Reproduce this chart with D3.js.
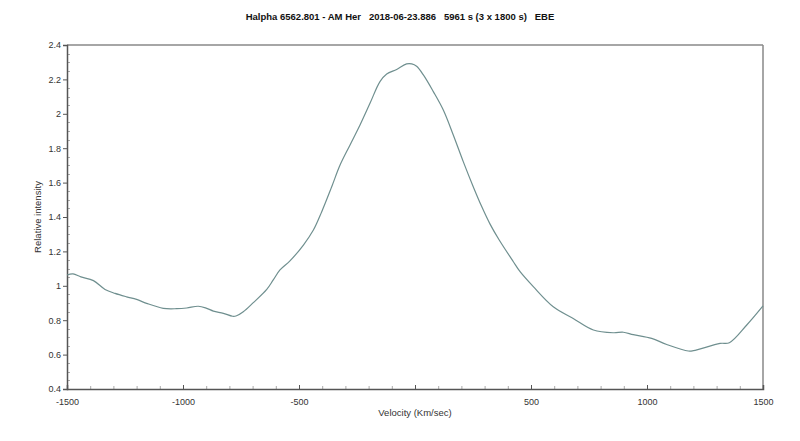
<!DOCTYPE html>
<html><head><meta charset="utf-8">
<script src="https://cdn.jsdelivr.net/npm/d3@7"></script>
<style>body{margin:0;background:#fff;}svg{display:block;font-family:"Liberation Sans",Arial,sans-serif;}</style>
</head><body>
<svg id="c" width="800" height="441"></svg>
<script>
const titleText = "Halpha 6562.801 - AM Her   2018-06-23.886   5961 s (3 x 1800 s)   EBE";
const xLabel = "Velocity (Km/sec)";
const yLabel = "Relative intensity";
const xTicks = [-1500, -1000, -500, 0, 500, 1000, 1500];
const xTickLabels = ["-1500", "-1000", "-500", "", "500", "1000", "1500"];
const yTicks = [0.4, 0.6, 0.8, 1, 1.2, 1.4, 1.6, 1.8, 2, 2.2, 2.4];
const velocity = [-1500,-1474,-1440,-1386,-1336,-1293,-1243,-1200,-1157,-1085,-1027,-984,-934,-898,-869,-826,-786,-769,-740,-697,-639,-611,-582,-539,-481,-438,-402,-359,-323,-280,-237,-194,-151,-122,-79,-36,-14,7,36,79,122,165,208,251,287,323,363,424,453,510,596,682,769,855,898,941,1020,1085,1178,1200,1315,1355,1430,1500];
const intensity = [1.063,1.069,1.052,1.030,0.979,0.956,0.936,0.921,0.898,0.869,0.867,0.871,0.881,0.869,0.853,0.840,0.823,0.826,0.849,0.902,0.979,1.034,1.092,1.145,1.237,1.324,1.431,1.576,1.702,1.819,1.935,2.061,2.187,2.231,2.258,2.290,2.290,2.276,2.226,2.129,2.022,1.877,1.722,1.576,1.462,1.360,1.266,1.140,1.082,0.995,0.878,0.810,0.743,0.727,0.730,0.716,0.694,0.659,0.621,0.623,0.665,0.669,0.772,0.883];

const svg = d3.select("#c");
const L = 67, R = 763, T = 45, B = 389;
const x = d3.scaleLinear().domain([-1500, 1500]).range([L, R]);
const y = d3.scaleLinear().domain([0.4, 2.4]).range([B, T]);

// minor ticks
const xMinor = d3.range(-1500, 1501, 100).filter(v => v % 500 !== 0);
const yMinor = d3.range(0, 41).map(i => 0.4 + i * 0.05).filter(v => Math.abs(v * 5 - Math.round(v * 5)) > 1e-6);
svg.append("g").selectAll("line").data(xMinor).join("line")
  .attr("x1", d => x(d) + 0.5).attr("x2", d => x(d) + 0.5)
  .attr("y1", B).attr("y2", B - 3).attr("stroke", "#aaa").attr("stroke-width", 1);
svg.append("g").selectAll("line").data(yMinor).join("line")
  .attr("y1", d => Math.round(y(d)) + 0.5).attr("y2", d => Math.round(y(d)) + 0.5)
  .attr("x1", L).attr("x2", L + 3).attr("stroke", "#aaa").attr("stroke-width", 1);

// frame top/right
svg.append("line").attr("x1", L).attr("x2", R).attr("y1", T).attr("y2", T).attr("stroke", "#888").attr("stroke-width", 1.5);
svg.append("line").attr("x1", R).attr("x2", R).attr("y1", T).attr("y2", B).attr("stroke", "#888").attr("stroke-width", 1.5);

// axes
const xAxis = d3.axisBottom(x).tickValues(xTicks).tickSize(-4).tickPadding(10)
  .tickFormat((d, i) => xTickLabels[i]);
const gx = svg.append("g").attr("transform", `translate(0,${B})`).call(xAxis);
gx.select(".domain").attr("stroke", "#555").attr("stroke-width", 1.5);
gx.selectAll(".tick line").attr("stroke", "#555");
gx.selectAll("text").attr("font-size", 9).attr("fill", "#333").attr("font-family", "Liberation Sans, Arial, sans-serif");

const yAxis = d3.axisLeft(y).tickValues(yTicks).tickSize(4).tickPadding(2)
  .tickFormat(d => d3.format("~g")(d));
const gy = svg.append("g").attr("transform", `translate(${L},0)`).call(yAxis);
gy.select(".domain").attr("stroke", "#555").attr("stroke-width", 1.5);
gy.selectAll(".tick line").attr("stroke", "#555");
gy.selectAll("text").attr("font-size", 9).attr("fill", "#333").attr("font-family", "Liberation Sans, Arial, sans-serif");

// curve
const data = velocity.map((v, i) => [v, intensity[i]]);
svg.append("path").datum(data)
  .attr("fill", "none").attr("stroke", "#6f8f8f").attr("stroke-width", 1.2)
  .attr("d", d3.line().x(d => x(d[0])).y(d => y(d[1])).curve(d3.curveCatmullRom.alpha(0.5)));

// title
svg.append("text").attr("x", 400).attr("y", 20).attr("text-anchor", "middle")
  .attr("font-size", 9.5).attr("font-weight", "bold").attr("fill", "#111")
  .style("white-space", "pre").text(titleText);
svg.append("text").attr("x", 415).attr("y", 416).attr("text-anchor", "middle")
  .attr("font-size", 9.5).attr("fill", "#333").text(xLabel);
svg.append("text").attr("transform", "translate(41,217) rotate(-90)").attr("text-anchor", "middle")
  .attr("font-size", 9.5).attr("fill", "#333").text(yLabel);
</script>
</body></html>
